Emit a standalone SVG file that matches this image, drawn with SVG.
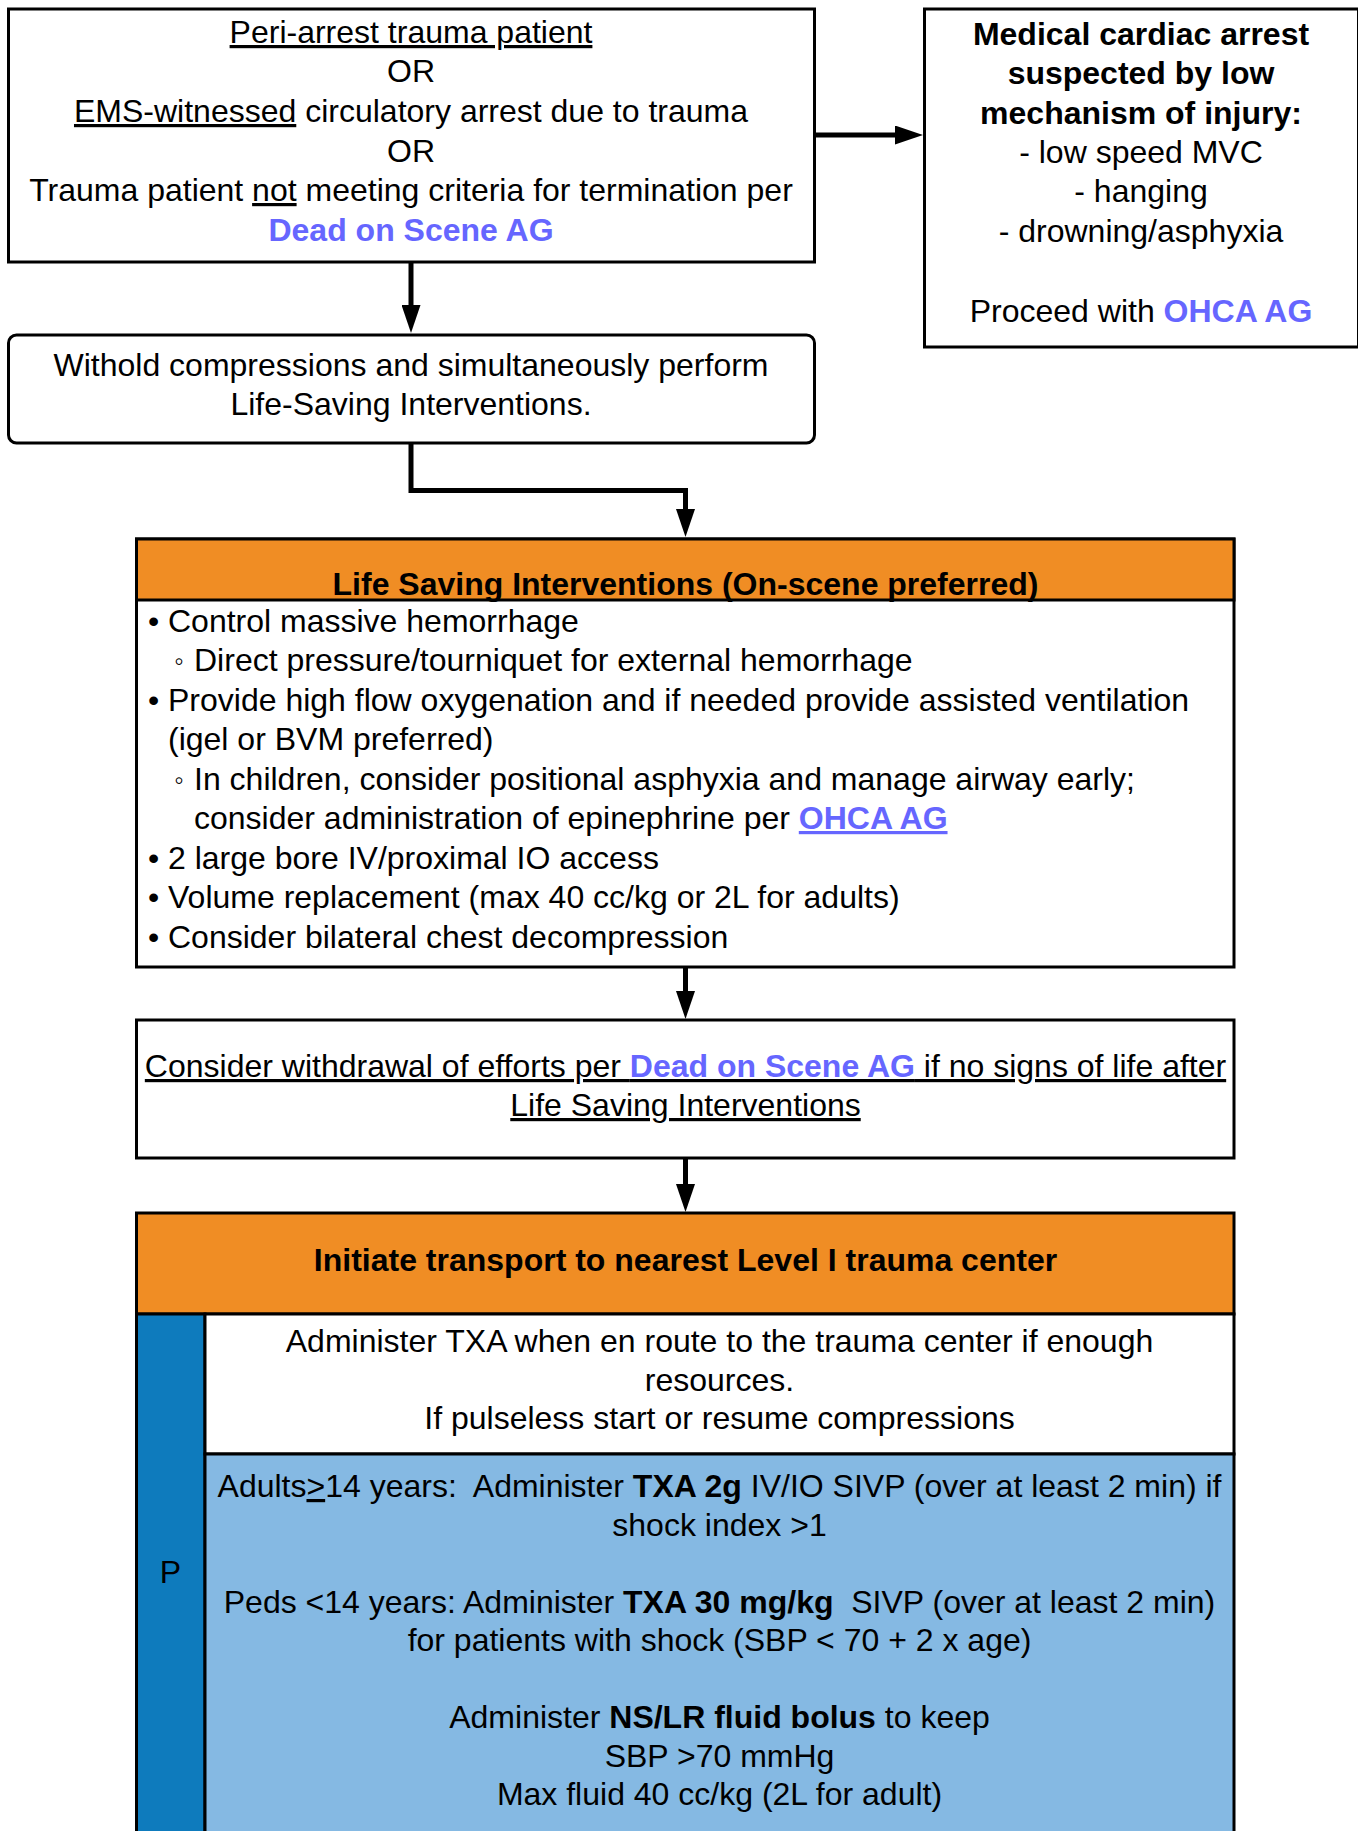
<svg xmlns="http://www.w3.org/2000/svg" width="1358" height="1831" viewBox="0 0 1358 1831">
<style>
.t{font-family:"Liberation Sans",Arial,"DejaVu Sans",sans-serif;font-size:32px;fill:#000}
.c{text-anchor:middle}
.b{font-weight:bold}
.lnk{font-weight:bold;fill:#6666FF}
.u{text-decoration:underline}
.sb{font-size:27px}
.box{fill:#fff;stroke:#000;stroke-width:3}
.hdr{fill:#F08D24;stroke:#000;stroke-width:3}
.conn{fill:none;stroke:#000;stroke-width:5}
</style>
<defs>
<marker id="ah" viewBox="0 0 28 19" refX="0" refY="9.5" markerWidth="28" markerHeight="19" markerUnits="userSpaceOnUse" orient="auto">
<path d="M0,0 L28,9.5 L0,19 Z" fill="#000"/>
</marker>
</defs>
<rect width="1358" height="1831" fill="#fff"/>

<g id="connectors">
<path class="conn" d="M814,135 H895" marker-end="url(#ah)"/>
<path class="conn" d="M411,263 V305" marker-end="url(#ah)"/>
<path class="conn" d="M411,443 V490.5 H685.5 V509" marker-end="url(#ah)"/>
<path class="conn" d="M685.5,967 V991" marker-end="url(#ah)"/>
<path class="conn" d="M685.5,1158 V1184" marker-end="url(#ah)"/>
</g>

<g id="node-criteria">
<rect class="box" x="8.5" y="9" width="806" height="253"/>
<text class="t c" x="411" y="43"><tspan class="u">Peri-arrest trauma patient</tspan></text>
<text class="t c" x="411" y="82">OR</text>
<text class="t c" x="411" y="122"><tspan class="u">EMS-witnessed</tspan> circulatory arrest due to trauma</text>
<text class="t c" x="411" y="162">OR</text>
<text class="t c" x="411" y="201">Trauma patient <tspan class="u">not</tspan> meeting criteria for termination per</text>
<text class="t c lnk" x="411" y="241">Dead on Scene AG</text>
</g>

<g id="node-medical">
<rect class="box" x="924.5" y="9" width="434" height="338"/>
<text class="t c b" x="1141" y="45">Medical cardiac arrest</text>
<text class="t c b" x="1141" y="84">suspected by low</text>
<text class="t c b" x="1141" y="124">mechanism of injury:</text>
<text class="t c" x="1141" y="163">- low speed MVC</text>
<text class="t c" x="1141" y="202">- hanging</text>
<text class="t c" x="1141" y="242">- drowning/asphyxia</text>
<text class="t c" x="1141" y="322">Proceed with <tspan class="lnk">OHCA AG</tspan></text>
</g>

<g id="node-withold">
<rect class="box" x="8.5" y="335" width="806" height="108" rx="8" ry="8"/>
<text class="t c" x="411" y="376">Withold compressions and simultaneously perform</text>
<text class="t c" x="411" y="415">Life-Saving Interventions.</text>
</g>

<g id="node-lsi">
<rect class="box" x="136.5" y="539" width="1097.5" height="428"/>
<rect class="hdr" x="136.5" y="539" width="1097.5" height="61"/>
<text class="t c b" x="685.5" y="595">Life Saving Interventions (On-scene preferred)</text>
<text class="t" x="148" y="632">•</text><text class="t" x="168" y="632">Control massive hemorrhage</text>
<text class="t sb" x="174" y="670">◦</text><text class="t" x="194" y="671">Direct pressure/tourniquet for external hemorrhage</text>
<text class="t" x="148" y="711">•</text><text class="t" x="168" y="711">Provide high flow oxygenation and if needed provide assisted ventilation</text>
<text class="t" x="168" y="750">(igel or BVM preferred)</text>
<text class="t sb" x="174" y="789">◦</text><text class="t" x="194" y="790">In children, consider positional asphyxia and manage airway early;</text>
<text class="t" x="194" y="829">consider administration of epinephrine per <tspan class="lnk u">OHCA AG</tspan></text>
<text class="t" x="148" y="869">•</text><text class="t" x="168" y="869">2 large bore IV/proximal IO access</text>
<text class="t" x="148" y="908">•</text><text class="t" x="168" y="908">Volume replacement (max 40 cc/kg or 2L for adults)</text>
<text class="t" x="148" y="948">•</text><text class="t" x="168" y="948">Consider bilateral chest decompression</text>
</g>

<g id="node-withdrawal">
<rect class="box" x="136.5" y="1020" width="1097.5" height="138"/>
<text class="t c u" x="685.5" y="1077">Consider withdrawal of efforts per <tspan class="lnk">Dead on Scene AG</tspan> if no signs of life after</text>
<text class="t c u" x="685.5" y="1116">Life Saving Interventions</text>
</g>

<g id="node-transport">
<rect class="hdr" x="136.5" y="1213" width="1097.5" height="101"/>
<text class="t c b" x="685.5" y="1271">Initiate transport to nearest Level I trauma center</text>
<rect x="136.5" y="1314" width="68.5" height="530" fill="#0E7BBD" stroke="#000" stroke-width="3"/>
<text class="t c" x="170.5" y="1583">P</text>
<rect class="box" x="205" y="1314" width="1029" height="140"/>
<text class="t c" x="719.5" y="1352">Administer TXA when en route to the trauma center if enough</text>
<text class="t c" x="719.5" y="1391">resources.</text>
<text class="t c" x="719.5" y="1429">If pulseless start or resume compressions</text>
<rect x="205" y="1454" width="1029" height="390" fill="#85B9E3" stroke="#000" stroke-width="3"/>
<text class="t c" x="719.5" y="1497" xml:space="preserve">Adults<tspan class="u">&gt;</tspan>14 years:  Administer <tspan class="b">TXA 2g</tspan> IV/IO SIVP (over at least 2 min) if</text>
<text class="t c" x="719.5" y="1536">shock index &gt;1</text>
<text class="t c" x="719.5" y="1613" xml:space="preserve">Peds &lt;14 years: Administer <tspan class="b">TXA 30 mg/kg</tspan>  SIVP (over at least 2 min)</text>
<text class="t c" x="719.5" y="1651">for patients with shock (SBP &lt; 70 + 2 x age)</text>
<text class="t c" x="719.5" y="1728">Administer <tspan class="b">NS/LR fluid bolus</tspan> to keep</text>
<text class="t c" x="719.5" y="1767">SBP &gt;70 mmHg</text>
<text class="t c" x="719.5" y="1805">Max fluid 40 cc/kg (2L for adult)</text>
</g>
</svg>
